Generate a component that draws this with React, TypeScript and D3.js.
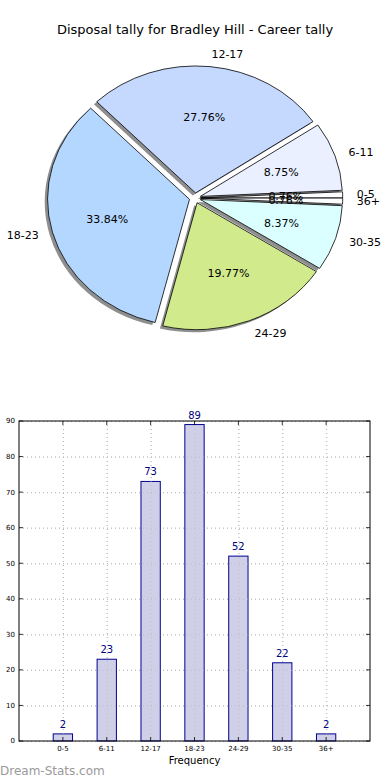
import React from 'react';
import * as d3 from 'd3';

const categories = ['0-5', '6-11', '12-17', '18-23', '24-29', '30-35', '36+'];
const counts = [2, 23, 73, 89, 52, 22, 2];
const sliceColors = ['#fbfdff', '#eaf0ff', '#c5d9ff', '#b4d7ff', '#d0ea8c', '#dbffff', '#fbfdff'];
const yTicks = [0, 10, 20, 30, 40, 50, 60, 70, 80, 90];

const W = 390;
const H = 780;

export default function App() {
  const font = 'DejaVu Sans, sans-serif';

  // pie (matplotlib style: starts at east, counter-clockwise, elliptical)
  const cx = 195;
  const cy = 198;
  const rx = 142;
  const ry = 127;
  const explode = 0.04;
  const total = d3.sum(counts);

  const pie = d3
    .pie<number>()
    .sort(null)
    .startAngle(Math.PI / 2)
    .endAngle(Math.PI / 2 - 2 * Math.PI);
  const arcs = pie(counts);
  const arc = d3.arc<d3.PieArcDatum<number>>().innerRadius(0).outerRadius(1);

  const slices = arcs.map((a, i) => {
    const theta = Math.PI / 2 - (a.startAngle + a.endAngle) / 2;
    const ox = explode * rx * Math.cos(theta);
    const oy = -explode * ry * Math.sin(theta);
    return { a, i, theta, ox, oy };
  });

  // bars
  const margin = { left: 19, right: 370, top: 421, bottom: 741 };
  const x = d3.scaleLinear().domain([-1, 7]).range([margin.left, margin.right]);
  const y = d3.scaleLinear().domain([0, 90]).range([margin.bottom, margin.top]);
  const barW = 0.44;
  const catIdx = categories.map((_, i) => i);

  return (
    <svg
      width={W}
      height={H}
      style={{ position: 'absolute', left: 0, top: 0, background: '#fff' }}
      fontFamily={font}
    >
      <rect width={W} height={H} fill="#fff" />
      <text x={195} y={34} textAnchor="middle" fontSize={13} fill="#000">
        Disposal tally for Bradley Hill - Career tally
      </text>

      {/* shadows */}
      {slices.map((s) => (
        <path
          key={'sh' + s.i}
          d={arc(s.a) || ''}
          transform={`translate(${cx + s.ox - 0.02 * rx},${cy + s.oy + 0.02 * ry}) scale(${rx},${ry})`}
          fill="#8e8e8e"
        />
      ))}
      {slices.map((s) => (
        <path
          key={'w' + s.i}
          d={arc(s.a) || ''}
          transform={`translate(${cx + s.ox},${cy + s.oy}) scale(${rx},${ry})`}
          fill={sliceColors[s.i]}
          stroke="#000"
          strokeWidth={0.8}
          vectorEffect="non-scaling-stroke"
        />
      ))}
      {slices.map((s) => {
        const lx = cx + s.ox + 1.1 * rx * Math.cos(s.theta);
        const ly = cy + s.oy - 1.1 * ry * Math.sin(s.theta);
        const px = cx + s.ox + 0.6 * rx * Math.cos(s.theta);
        const py = cy + s.oy - 0.6 * ry * Math.sin(s.theta);
        return (
          <g key={'t' + s.i} fontSize={11} fill="#000">
            <text
              x={lx}
              y={ly}
              dy="0.35em"
              textAnchor={Math.cos(s.theta) > 0 ? 'start' : 'end'}
            >
              {categories[s.i]}
            </text>
            <text x={px} y={py} dy="0.35em" textAnchor="middle">
              {((counts[s.i] / total) * 100).toFixed(2) + '%'}
            </text>
          </g>
        );
      })}

      {/* bar chart grid */}
      <g stroke="#b8b8b8" strokeWidth={1} strokeDasharray="1,3">
        {yTicks.map((t) => (
          <line key={'gy' + t} x1={margin.left} x2={margin.right} y1={y(t) + 0.5} y2={y(t) + 0.5} />
        ))}
        {catIdx.map((i) => (
          <line key={'gx' + i} x1={x(i) + 0.5} x2={x(i) + 0.5} y1={margin.top} y2={margin.bottom} />
        ))}
      </g>

      {/* bars */}
      {counts.map((v, i) => (
        <g key={'b' + i}>
          <rect
            x={x(i - barW / 2)}
            y={y(v)}
            width={x(barW) - x(0)}
            height={y(0) - y(v)}
            fill="#ccccE6"
            fillOpacity={0.95}
            stroke="#000090"
            strokeWidth={1}
          />
          <text x={x(i)} y={y(v) - 6} textAnchor="middle" fontSize={10} fill="#000080">
            {v}
          </text>
        </g>
      ))}

      {/* grid over bars (dotted shows through) */}
      <g stroke="#b8b8b8" strokeWidth={1} strokeDasharray="1,3" opacity={0.6}>
        {yTicks.map((t) => (
          <line key={'gy2' + t} x1={margin.left} x2={margin.right} y1={y(t) + 0.5} y2={y(t) + 0.5} />
        ))}
        {catIdx.map((i) => (
          <line key={'gx2' + i} x1={x(i) + 0.5} x2={x(i) + 0.5} y1={margin.top} y2={margin.bottom} />
        ))}
      </g>

      {/* frame */}
      <rect
        x={margin.left}
        y={margin.top}
        width={margin.right - margin.left}
        height={margin.bottom - margin.top}
        fill="none"
        stroke="#000"
        strokeWidth={1}
      />

      {/* ticks */}
      <g stroke="#000" strokeWidth={0.8}>
        {yTicks.map((t) => (
          <g key={'ty' + t}>
            <line x1={margin.left} x2={margin.left + 4} y1={y(t)} y2={y(t)} />
            <line x1={margin.right - 4} x2={margin.right} y1={y(t)} y2={y(t)} />
          </g>
        ))}
        {catIdx.map((i) => (
          <g key={'tx' + i}>
            <line x1={x(i)} x2={x(i)} y1={margin.bottom} y2={margin.bottom - 4} />
            <line x1={x(i)} x2={x(i)} y1={margin.top} y2={margin.top + 4} />
          </g>
        ))}
      </g>

      <g fontSize={7} fill="#000">
        {yTicks.map((t) => (
          <text key={'ly' + t} x={margin.left - 4} y={y(t)} dy="0.35em" textAnchor="end">
            {t}
          </text>
        ))}
        {categories.map((c, i) => (
          <text key={'lx' + i} x={x(i)} y={margin.bottom + 10} textAnchor="middle">
            {c}
          </text>
        ))}
      </g>
      <text x={(margin.left + margin.right) / 2} y={764} textAnchor="middle" fontSize={10} fill="#000">
        Frequency
      </text>

      <text x={0} y={775} fontSize={12} fill="#9a9a9a">
        Dream-Stats.com
      </text>
    </svg>
  );
}
